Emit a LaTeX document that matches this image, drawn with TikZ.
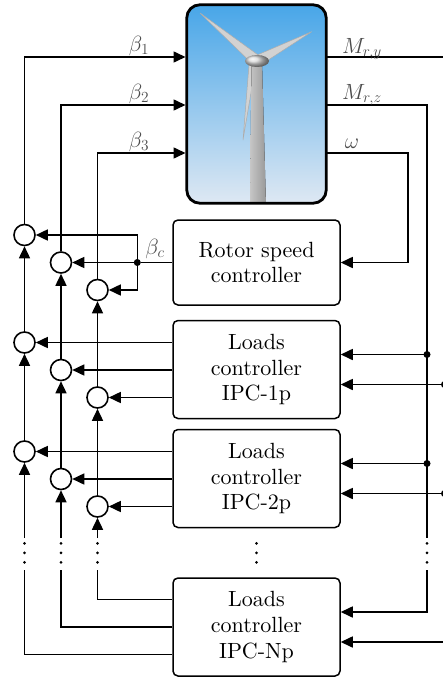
\RequirePackage{fix-cm}
\documentclass[tikz,border=0pt]{standalone}
\usepackage{amsmath}
\usepackage{fontspec}
\setmainfont{lmroman10-regular.otf}
\usetikzlibrary{arrows.meta,calc}

\definecolor{skytop}{RGB}{72,166,232}
\definecolor{skymid}{RGB}{140,196,238}
\definecolor{skybot}{RGB}{222,232,243}

\tikzset{
    every node/.style={font=\fontsize{22}{25.7}\selectfont},
    ctrl/.style={draw, line width=1.5pt, rounded corners=5pt, minimum width=167pt, align=center},
    sumnode/.style={draw, circle, line width=1.6pt, minimum size=21pt, inner sep=0pt, fill=white},
    wire/.style={line width=1.6pt},
    arr/.style={wire, -{Triangle[length=12pt,width=11pt]}},
    lab/.style={text=black!70, inner sep=0pt},
    junc/.style={circle, fill, inner sep=0pt, minimum size=7pt},
    blade/.style={fill=gray!35, draw=gray!65, line width=0.5pt},
}

\begin{document}
\begin{tikzpicture}[x=1pt, y=-1pt]
    \useasboundingbox (0,0) rectangle (443,677);

    \node[minimum width=139pt, minimum height=198pt, rounded corners=13pt,
          top color=skytop, middle color=skymid, bottom color=skybot] (wt) at (256.5,104) {};
    \begin{scope}
        \clip[rounded corners=13pt] (wt.south west) rectangle (wt.north east);
        \filldraw[blade] (252.5,64) -- (259.5,56) -- (200,13) -- cycle;
        \filldraw[blade] (260.5,65) -- (256,55.5) -- (311.7,31.7) -- cycle;
        \filldraw[blade] (255.5,66) -- (249,65) -- (243,140) -- cycle;
        \fill[left color=gray!45, right color=gray!80] (251.5,62) -- (262,62) -- (266,206) -- (250,206) -- cycle;
        \shade[ball color=gray!30] (257,61) ellipse [x radius=12pt, y radius=6pt];
    \end{scope}
    \draw[line width=2.8pt, rounded corners=13pt] (wt.south west) rectangle (wt.north east);

    \node[ctrl, minimum height=85pt] (rs) at (256.5,262.5) {Rotor speed\\controller};
    \node[ctrl, minimum height=98pt] (l1) at (256.5,369.5) {Loads\\controller\\IPC-1p};
    \node[ctrl, minimum height=98pt] (l2) at (256.5,478.5) {Loads\\controller\\IPC-2p};
    \node[ctrl, minimum height=98pt] (ln) at (256.5,627) {Loads\\controller\\IPC-Np};

    \foreach \r/\y in {1/262.5, 2/370, 3/479}
        \foreach \c/\x/\dy in {1/24.5/-27.5, 2/61/0, 3/97.5/27.5}
            \node[sumnode] (s\r\c) at (\x,{\y+\dy}) {};

    \coordinate (b1) at (185.5,57);
    \coordinate (b2) at (185.5,105);
    \coordinate (b3) at (185.5,153);
    \foreach \c in {1,2,3} {
        \draw[arr] (s1\c) |- (b\c);
        \draw[arr] (s2\c) -- (s1\c);
        \draw[arr] (s3\c) -- (s2\c);
    }

    \node[junc] (jc) at (137.3,262.5) {};
    \draw[wire] (rs.west) -- (jc);
    \draw[arr] (jc) -- (s12);
    \draw[arr] (jc.center) |- (s11);
    \draw[arr] (jc.center) |- (s13);

    \foreach \b/\r in {l1/2, l2/3}
        \foreach \c in {1,2,3}
            \draw[arr] (\b.west |- s\r\c) -- (s\r\c);

    \foreach \c/\x/\dy in {1/24.5/-27.5, 2/61/0, 3/97.5/27.5} {
        \coordinate (t\c) at (\x,538);
        \coordinate (u\c) at (\x,570);
        \draw[arr] (t\c) -- (s3\c);
        \draw[wire] ([yshift=\dy pt]ln.west) -| (u\c);
        \foreach \yy in {543.3,552.8,562.3}
            \fill (\x,\yy) circle[radius=1.5pt];
    }

    \foreach \b in {l1,l2,ln} {
        \coordinate (\b z) at ([yshift=15pt]\b.east);
        \coordinate (\b y) at ([yshift=-15pt]\b.east);
    }

    \coordinate (ry) at (444.5,57);
    \coordinate (rz) at (427,105);
    \coordinate (rw) at (408,153);
    \draw[wire] (wt.east |- ry) -- (ry) -- (ry |- lny);
    \foreach \b in {l1,l2,ln}
        \draw[arr] (ry |- \b y) -- (\b y);
    \foreach \b in {l1,l2}
        \node[junc] (jy\b) at (ry |- \b y) {};

    \coordinate (gz1) at (427,538);
    \coordinate (gz2) at (427,570);
    \draw[wire] (wt.east |- rz) -- (rz) -- (gz1);
    \draw[arr] (gz2) |- (lnz);
    \foreach \b in {l1,l2} {
        \draw[arr] (rz |- \b z) -- (\b z);
        \node[junc] (jz\b) at (rz |- \b z) {};
    }
    \foreach \x in {256.5,427}
        \foreach \yy in {543.3,552.8,562.3}
            \fill (\x,\yy) circle[radius=1.5pt];

    \draw[arr] (wt.east |- rw) -- (rw) |- (rs.east);

    \node[lab] (lb1) at (139,46) {$\beta_1$};
    \node[lab] (lb2) at (139,94) {$\beta_2$};
    \node[lab] (lb3) at (139,142) {$\beta_3$};
    \node[lab] (lmy) at (362,49) {$M_{r,y}$};
    \node[lab] (lmz) at (362,95) {$M_{r,z}$};
    \node[lab] (lw) at (352,144) {$\omega$};
    \node[lab] (lbc) at (155,248.5) {$\beta_c$};
\end{tikzpicture}
\end{document}
